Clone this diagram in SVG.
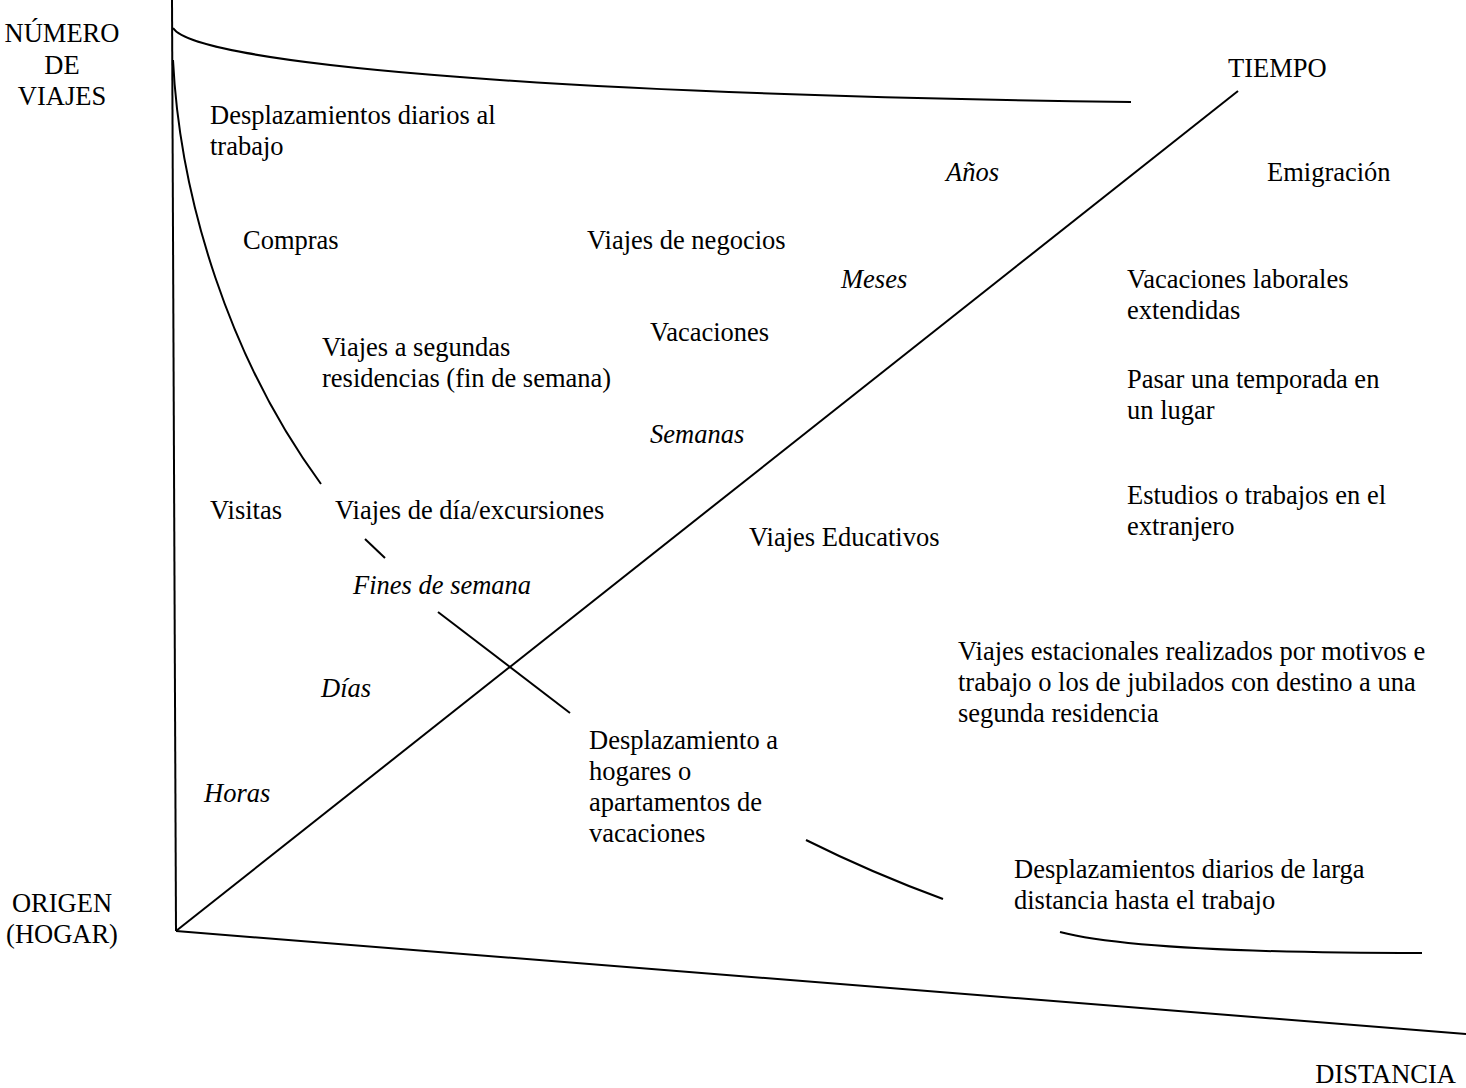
<svg xmlns="http://www.w3.org/2000/svg" width="1466" height="1088" viewBox="0 0 1466 1088">
<style>
text{font-family:"Liberation Serif","Times New Roman",serif;font-size:26.5px;fill:#000}
.i{font-style:italic}
.c{text-anchor:middle}
.ln{fill:none;stroke:#000;stroke-width:2}
</style>
<rect width="1466" height="1088" fill="#fff"/>
<g id="connectors">
<path class="ln" d="M172,0 L176,931"/>
<path class="ln" d="M176,931 L1238,91"/>
<path class="ln" d="M176,931 L1466,1034"/>
<path class="ln" d="M173,28 C195,62 520,94 1131,102"/>
<path class="ln" d="M173,60 C180,200 230,360 321,484"/>
<path class="ln" d="M365,539 L385,558"/>
<path class="ln" d="M438,612 L570,713"/>
<path class="ln" d="M806,840 Q872,873 943,899"/>
<path class="ln" d="M1060,932 Q1140,953 1422,953"/>
</g>
<g id="axis-labels">
<text class="c" x="62" y="42">NÚMERO</text>
<text class="c" x="62" y="74">DE</text>
<text class="c" x="62" y="105">VIAJES</text>
<text x="1228" y="77">TIEMPO</text>
<text class="c" x="62" y="912">ORIGEN</text>
<text class="c" x="62" y="943">(HOGAR)</text>
<text x="1456" y="1083" style="text-anchor:end">DISTANCIA</text>
</g>
<g id="time-labels">
<text class="i" x="946" y="181">Años</text>
<text class="i" x="841" y="288">Meses</text>
<text class="i" x="650" y="443">Semanas</text>
<text class="i" x="353" y="594">Fines de semana</text>
<text class="i" x="321" y="697">Días</text>
<text class="i" x="204" y="802">Horas</text>
</g>
<g id="trip-labels">
<text x="210" y="124">Desplazamientos diarios al</text>
<text x="210" y="155">trabajo</text>
<text x="1267" y="181">Emigración</text>
<text x="243" y="249">Compras</text>
<text x="587" y="249">Viajes de negocios</text>
<text x="1127" y="288">Vacaciones laborales</text>
<text x="1127" y="319">extendidas</text>
<text x="650" y="341">Vacaciones</text>
<text x="322" y="356">Viajes a segundas</text>
<text x="322" y="387">residencias (fin de semana)</text>
<text x="1127" y="388">Pasar una temporada en</text>
<text x="1127" y="419">un lugar</text>
<text x="1127" y="504">Estudios o trabajos en el</text>
<text x="1127" y="535">extranjero</text>
<text x="210" y="519">Visitas</text>
<text x="335" y="519">Viajes de día/excursiones</text>
<text x="749" y="546">Viajes Educativos</text>
<text x="958" y="660">Viajes estacionales realizados por motivos e</text>
<text x="958" y="691">trabajo o los de jubilados con destino a una</text>
<text x="958" y="722">segunda residencia</text>
<text x="589" y="749">Desplazamiento a</text>
<text x="589" y="780">hogares o</text>
<text x="589" y="811">apartamentos de</text>
<text x="589" y="842">vacaciones</text>
<text x="1014" y="878">Desplazamientos diarios de larga</text>
<text x="1014" y="909">distancia hasta el trabajo</text>
</g>
</svg>
